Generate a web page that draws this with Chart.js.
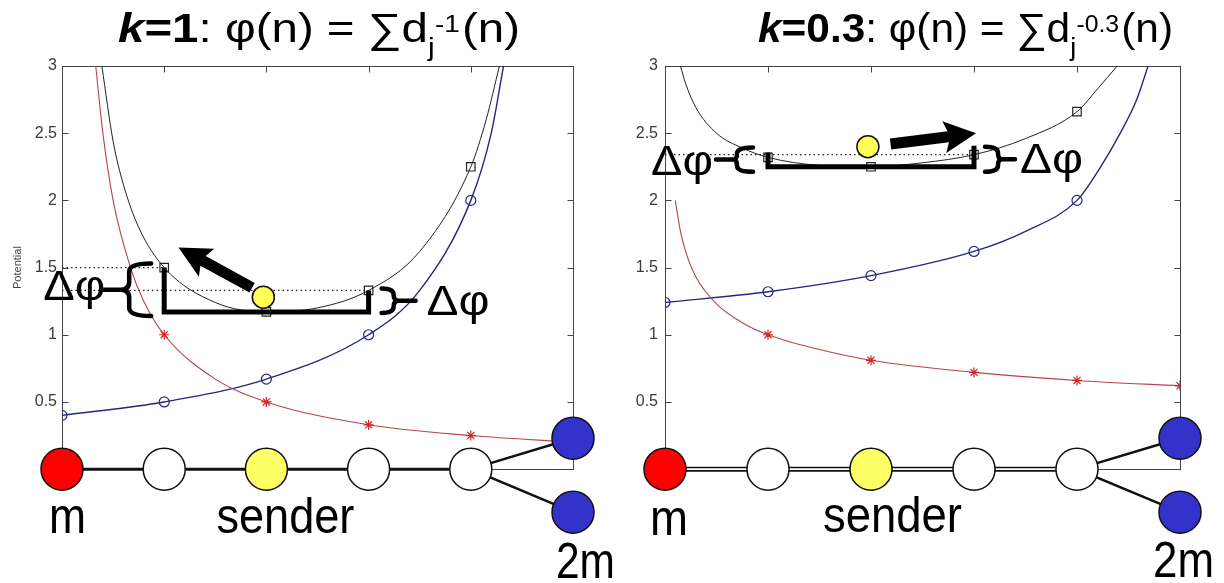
<!DOCTYPE html>
<html>
<head>
<meta charset="utf-8">
<script src="https://cdn.jsdelivr.net/npm/chart.js@4.4.1/dist/chart.umd.min.js"></script>
<style>
  html, body { margin: 0; padding: 0; background: #fff; }
  body { width: 1224px; height: 583px; position: relative; overflow: hidden; }
  canvas { position: absolute; top: 0; }
  #k1 { left: 0; }
  #k03 { left: 600px; }
</style>
</head>
<body>
<canvas id="k1" width="630" height="583"></canvas>
<canvas id="k03" width="624" height="583"></canvas>
<script>
const FONT = '"Liberation Sans", Arial, Helvetica, sans-serif';

// the chain of nodes: hop index along the path, level of the two 2m nodes
const nodeHop = [0, 1, 2, 3, 4, 5, 5];
const nodeLevel = [0, 0, 0, 0, 0, 0.23, -0.32];
const nodeColor = ['#ff0000', '#ffffff', '#ffff66', '#ffffff', '#ffffff', '#3333cc', '#3333cc'];
const chainHop = [0, 1, 2, 3, 4];
const forkHop = [5, 4, 5];
const forkLevel = [0.23, 0, -0.32];
const xTickVals = [1, 2, 3, 4];
const yTickVals = [0, 0.5, 1, 1.5, 2, 2.5, 3];

// k = 1 panel: [hop, potential]
const k1Red = [[0.33, 3.0], [0.4, 2.5], [0.5, 2.0], [0.67, 1.5], [0.8, 1.25], [1, 1.0], [1.5, 0.67], [2, 0.5], [3, 0.33], [4, 0.25], [5, 0.2]];
const k1Blue = [[0, 0.4], [1, 0.5], [2, 0.67], [3, 1.0], [3.5, 1.33], [4, 2.0], [4.2, 2.5], [4.32, 3.0]];
const k1Black = [[0.39, 3.0], [0.5, 2.44], [0.6, 2.12], [0.75, 1.8], [1, 1.5], [1.5, 1.24], [2, 1.17], [2.5, 1.2], [3, 1.33], [3.5, 1.62], [4, 2.25], [4.15, 2.6], [4.28, 3.0]];
const k1Dots = [[[0, 1.5], [1, 1.5]], [[0, 1.33], [3, 1.33]]];
const k1Msg = [1.97, 1.28];
const k1Arrow = [[1.86, 1.35], [1.14, 1.65]];

// k = 0.3 panel
const k03Red = [[0.1, 2.0], [0.15, 1.77], [0.2, 1.62], [0.3, 1.43], [0.5, 1.23], [0.75, 1.09], [1, 1.0], [1.5, 0.89], [2, 0.81], [3, 0.72], [4, 0.66], [5, 0.62]];
const k03Blue = [[0, 1.24], [1, 1.32], [2, 1.44], [3, 1.62], [3.5, 1.77], [4, 2.0], [4.23, 2.25], [4.42, 2.5], [4.58, 2.75], [4.69, 3.0]];
const k03Black = [[0.15, 3.0], [0.2, 2.87], [0.3, 2.69], [0.5, 2.5], [0.75, 2.39], [1, 2.32], [1.5, 2.26], [2, 2.25], [2.5, 2.28], [3, 2.34], [3.5, 2.46], [4, 2.66], [4.2, 2.83], [4.39, 3.0]];
const k03Dots = [[[0, 2.34], [3, 2.34]]];
const k03Msg = [1.97, 2.40];
const k03Arrow = [[2.19, 2.42], [3.02, 2.5]];

const panels = [
  {
    id: 'k1', k: '1', red: k1Red, blue: k1Blue, black: k1Black, dots: k1Dots, msg: k1Msg, arrow: k1Arrow,
    yWidth: 62, padRight: 57, tickPad: 5, yTitle: true, doubleEdge: false,
    titleDx: 1.5, titleW: 402,
    ext: [0, 0],
    lBrace: { dx: -35, top: -4, bot: 4, arm: 22, tip: 9, dash: 27, tx: -59, ty: 10 },
    rBrace: { dx: 25, top: -2, bot: 1, arm: 12, tip: 5, dash: 22, tx: 58, ty: 14 },
    labels: [['m', 0, 5.5, 533, 37], ['sender', 2, 19, 533, 138], ['2m', 5, 12.5, 578, 59]]
  },
  {
    id: 'k03', k: '0.3', red: k03Red, blue: k03Blue, black: k03Black, dots: k03Dots, msg: k03Msg, arrow: k03Arrow,
    yWidth: 65, padRight: 44, tickPad: 7, yTitle: false, doubleEdge: true,
    titleDx: 43, titleW: 415,
    ext: [5, 9],
    lBrace: { dx: -31, top: -10, bot: 5, arm: 16, tip: 4, dash: 21, tx: -55, ty: 15 },
    rBrace: { dx: 24, top: -8, bot: 5, arm: 13, tip: 4, dash: 17, tx: 46, ty: 14 },
    labels: [['m', 0, 4, 535, 38], ['sender', 2, 21.5, 532, 139], ['2m', 5, 3.5, 577, 61]]
  }
];

const xy = pts => pts.map(p => ({ x: p[0], y: p[1] }));
const onHop = r => (ctx => ctx.raw && Number.isInteger(ctx.raw.x) ? r : 0);

function fitText(ctx, text, size, cx, y, w, align) {
  ctx.save();
  ctx.font = size + 'px ' + FONT;
  const s = w / ctx.measureText(text).width;
  ctx.translate(cx, y);
  ctx.scale(s, 1);
  ctx.textAlign = align;
  ctx.textBaseline = 'alphabetic';
  ctx.fillText(text, 0, 0);
  ctx.restore();
}

function drawTitle(ctx, cx, base, k, target) {
  const runs = [
    { t: 'k', f: 'italic bold 41px ' + FONT },
    { t: '=' + k, f: 'bold 41px ' + FONT },
    { t: ': φ(n) = ∑d', f: '41px ' + FONT },
    { sub: 'j', sup: '-' + k },
    { t: '(n)', f: '41px ' + FONT }
  ];
  let w = 0;
  runs.forEach(r => {
    if (r.t) { ctx.font = r.f; r.w = ctx.measureText(r.t).width; }
    else {
      ctx.font = '26px ' + FONT; const a = ctx.measureText(r.sub).width;
      ctx.font = '24px ' + FONT; const b = ctx.measureText(r.sup).width;
      r.w = Math.max(a, b + 6) + 2;
    }
    w += r.w;
  });
  ctx.save();
  ctx.fillStyle = '#000';
  ctx.translate(cx - target / 2, base);
  ctx.scale(target / w, 1);
  let x = 0;
  runs.forEach(r => {
    if (r.t) { ctx.font = r.f; ctx.fillText(r.t, x, 0); }
    else {
      ctx.font = '26px ' + FONT; ctx.fillText(r.sub, x, 14);
      ctx.font = '24px ' + FONT; ctx.fillText(r.sup, x + 6, -10);
    }
    x += r.w;
  });
  ctx.restore();
}

function brace(ctx, xs, y0, y1, dir, arm, tip, dash) {
  const ym = (y0 + y1) / 2, r = Math.min(8, (y1 - y0) / 4);
  ctx.beginPath();
  ctx.moveTo(xs - dir * arm, y0);
  ctx.quadraticCurveTo(xs, y0, xs, y0 + r);
  ctx.lineTo(xs, ym - r);
  ctx.quadraticCurveTo(xs, ym, xs + dir * tip, ym);
  ctx.quadraticCurveTo(xs, ym, xs, ym + r);
  ctx.lineTo(xs, y1 - r);
  ctx.quadraticCurveTo(xs, y1, xs - dir * arm, y1);
  ctx.moveTo(xs + dir * tip, ym);
  ctx.lineTo(xs + dir * dash, ym);
  ctx.stroke();
  return ym;
}

function arrow(ctx, x0, y0, x1, y1, shaft, headLen, headHalf) {
  const ang = Math.atan2(y1 - y0, x1 - x0), len = Math.hypot(x1 - x0, y1 - y0);
  ctx.save();
  ctx.translate(x0, y0);
  ctx.rotate(ang);
  ctx.beginPath();
  ctx.moveTo(0, -shaft / 2);
  ctx.lineTo(len - headLen + 4, -shaft / 2);
  ctx.lineTo(len - headLen, -headHalf);
  ctx.lineTo(len, 0);
  ctx.lineTo(len - headLen, headHalf);
  ctx.lineTo(len - headLen + 4, shaft / 2);
  ctx.lineTo(0, shaft / 2);
  ctx.closePath();
  ctx.fill();
  ctx.restore();
}

function panelPlugin(p) {
  const phi = h => p.black.find(v => v[0] === h)[1];
  let ymL = 0, ymR = 0;
  return {
    id: 'panel_' + p.id,
    beforeDatasetsDraw(chart) {
      const { ctx, chartArea: a, scales: { x, y } } = chart;
      const top = Math.round(y.getPixelForValue(3)) + 0.5, bot = Math.round(y.getPixelForValue(0)) + 0.5;
      const left = Math.round(a.left) + 0.5, right = Math.round(a.right) + 0.5;
      ctx.save();
      ctx.strokeStyle = '#444';
      ctx.lineWidth = 1;
      ctx.strokeRect(left, top, right - left, bot - top);
      ctx.beginPath();
      xTickVals.forEach(v => {
        const px = Math.round(x.getPixelForValue(v)) + 0.5;
        ctx.moveTo(px, top); ctx.lineTo(px, top + 6);
        ctx.moveTo(px, bot); ctx.lineTo(px, bot - 6);
      });
      yTickVals.forEach(v => {
        const py = Math.round(y.getPixelForValue(v)) + 0.5;
        ctx.moveTo(left, py); ctx.lineTo(left + 6, py);
        ctx.moveTo(right, py); ctx.lineTo(right - 6, py);
      });
      ctx.stroke();
      if (p.yTitle) {
        ctx.translate(18, y.getPixelForValue(1.5));
        ctx.rotate(-Math.PI / 2);
        ctx.font = '11px ' + FONT;
        ctx.fillStyle = '#444';
        ctx.textAlign = 'center';
        ctx.textBaseline = 'middle';
        ctx.fillText('Potential', 0, 0);
      }
      ctx.restore();
    },
    afterDatasetsDraw(chart) {
      const { ctx, scales: { x, y } } = chart;
      const xl = x.getPixelForValue(1), xr = x.getPixelForValue(3);
      const yb = y.getPixelForValue(phi(2)), yl = y.getPixelForValue(phi(1)), yr = y.getPixelForValue(phi(3));
      ctx.save();
      ctx.strokeStyle = '#000';
      ctx.fillStyle = '#000';
      ctx.lineWidth = 5;
      ctx.lineJoin = 'miter';
      ctx.beginPath();
      ctx.moveTo(xl, yl - p.ext[0]);
      ctx.lineTo(xl, yb);
      ctx.lineTo(xr, yb);
      ctx.lineTo(xr, yr - p.ext[1]);
      ctx.stroke();
      ctx.lineWidth = 4.5;
      ctx.lineCap = 'round';
      const L = p.lBrace, R = p.rBrace;
      ymL = brace(ctx, xl + L.dx, yl + L.top, yb + L.bot, -1, L.arm, L.tip, L.dash);
      ymR = brace(ctx, xr + R.dx, yr + R.top, yb + R.bot, 1, R.arm, R.tip, R.dash);
      const a0 = p.arrow[0], a1 = p.arrow[1];
      arrow(ctx, x.getPixelForValue(a0[0]), y.getPixelForValue(a0[1]),
        x.getPixelForValue(a1[0]), y.getPixelForValue(a1[1]), 11, 32, 16);
      ctx.restore();
    },
    afterDraw(chart) {
      const { ctx, chartArea: a, scales: { x } } = chart;
      const xl = x.getPixelForValue(1), xr = x.getPixelForValue(3);
      ctx.save();
      ctx.fillStyle = '#000';
      drawTitle(ctx, (a.left + a.right) / 2 + p.titleDx, 42, p.k, p.titleW);
      fitText(ctx, 'Δφ', 42, xl + p.lBrace.tx, ymL + p.lBrace.ty, 62, 'right');
      fitText(ctx, 'Δφ', 42, xr + p.rBrace.tx, ymR + p.rBrace.ty, 63, 'left');
      p.labels.forEach(l => fitText(ctx, l[0], 50, x.getPixelForValue(l[1]) + l[2], l[3], l[4], 'center'));
      ctx.restore();
    }
  };
}

function curve(pts, color, mark, style, radius, width, order) {
  return {
    data: xy(pts), showLine: true, borderColor: color, borderWidth: width,
    cubicInterpolationMode: 'monotone',
    pointStyle: style, pointRadius: onHop(radius), pointBorderColor: mark,
    pointBorderWidth: 1.2, pointBackgroundColor: 'rgba(0,0,0,0)', order: order
  };
}

panels.forEach(p => {
  const datasets = [
    {
      // the message at the sender
      data: [{ x: p.msg[0], y: p.msg[1] }], pointRadius: 11, pointBackgroundColor: '#ffff55',
      pointBorderColor: '#111', pointBorderWidth: 1.5, clip: false, order: -1
    },
    {
      data: nodeHop.map((h, i) => ({ x: h, y: nodeLevel[i] })), pointRadius: 21,
      pointBackgroundColor: nodeColor, pointBorderColor: '#111', pointBorderWidth: 1.5,
      clip: false, order: 0
    },
    {
      data: forkHop.map((h, i) => ({ x: h, y: forkLevel[i] })), showLine: true,
      borderColor: '#111', borderWidth: 2.5, pointRadius: 0, clip: false, order: 2
    },
    {
      data: chainHop.map(h => ({ x: h, y: 0 })), showLine: true,
      borderColor: '#111', borderWidth: p.doubleEdge ? 5 : 3, pointRadius: 0, clip: false, order: 2
    },
    curve(p.red, '#b8434a', '#d02626', 'star', 5, 1.1, 4),
    curve(p.blue, '#262680', '#262680', 'circle', 5, 1.4, 4),
    curve(p.black, '#222', '#222', 'rect', 6, 1, 4)
  ];
  if (p.doubleEdge) {
    datasets.push({
      data: chainHop.map(h => ({ x: h, y: 0 })), showLine: true,
      borderColor: '#fff', borderWidth: 1.6, pointRadius: 0, clip: false, order: 1
    });
  }
  p.dots.forEach(d => datasets.push({
    data: xy(d), showLine: true, borderColor: '#222', borderWidth: 1.2,
    borderDash: [1.5, 3], pointRadius: 0, order: 6
  }));

  new Chart(document.getElementById(p.id), {
    type: 'scatter',
    data: { datasets },
    options: {
      responsive: false,
      animation: false,
      events: [],
      layout: { padding: { left: 0, right: p.padRight, top: 66, bottom: 0 } },
      plugins: { legend: { display: false }, tooltip: { enabled: false } },
      scales: {
        x: { type: 'linear', min: 0, max: 5, display: false },
        y: {
          // the range runs below 0 so the node row fits inside the plot area; the frame stops at 0
          type: 'linear', min: -0.68, max: 3,
          grid: { display: false, drawTicks: false },
          border: { display: false },
          afterBuildTicks(scale) { scale.ticks = yTickVals.map(v => ({ value: v })); },
          ticks: {
            padding: p.tickPad, color: '#3a3a3a', font: { family: FONT, size: 16 },
            callback: v => String(v)
          },
          afterFit(scale) { scale.width = p.yWidth; }
        }
      }
    },
    plugins: [panelPlugin(p)]
  });
});
</script>
</body>
</html>
